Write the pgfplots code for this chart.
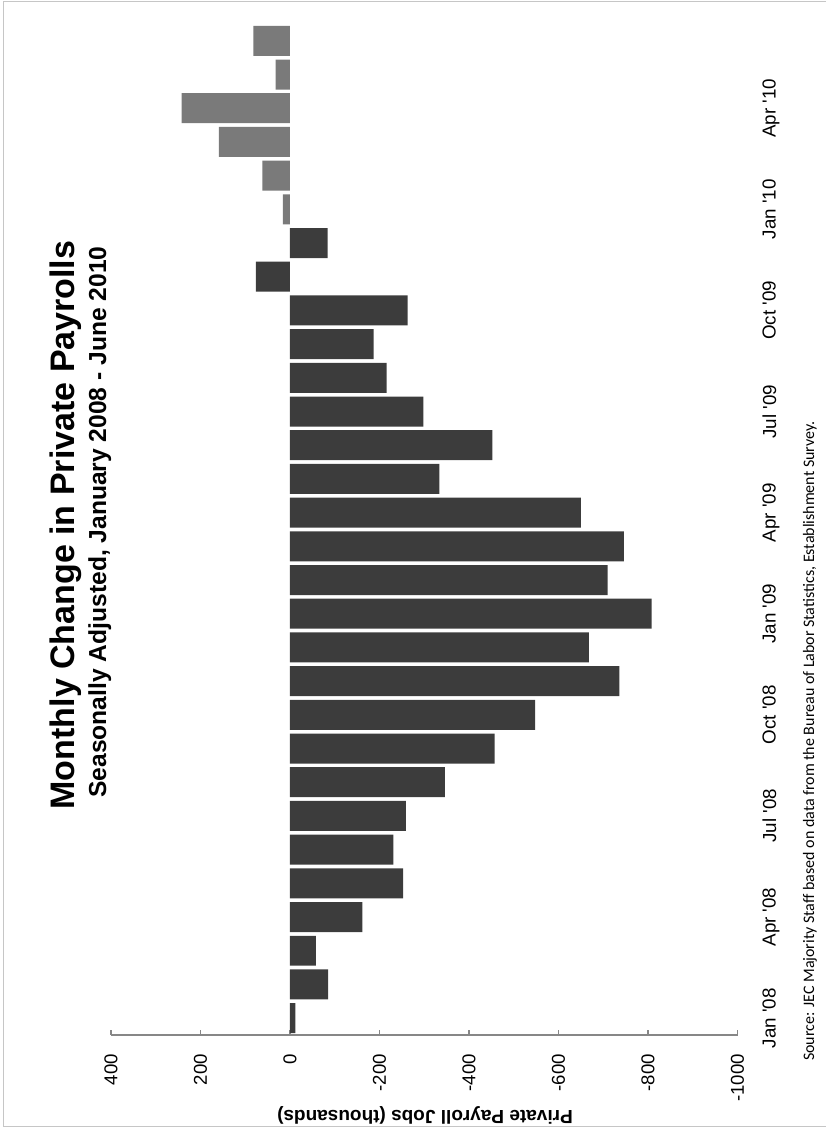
\documentclass[border=0pt]{standalone}
\usepackage{pgfplots}
\usepackage{pgfplotstable}
\pgfplotsset{compat=1.18}
\usepackage{fontspec}
\setmainfont{Liberation Sans}
\newfontfamily\sourcefont{Carlito}

\definecolor{bardark}{RGB}{60,60,60}
\definecolor{barlight}{RGB}{122,122,122}
\definecolor{axisgray}{RGB}{135,135,135}

% month index (0 = Jan 2008), change in private payrolls (thousands)
\pgfplotstableread{
idx val
0 -12
1 -85
2 -58
3 -162
4 -253
5 -231
6 -259
7 -346
8 -457
9 -548
10 -736
11 -668
12 -808
13 -710
14 -746
15 -650
16 -334
17 -452
18 -298
19 -216
20 -187
21 -263
22 76
23 -84
}\lossdata

\pgfplotstableread{
idx val
24 16
25 62
26 159
27 242
28 32
29 82
}\recoverydata

\begin{document}
\begin{tikzpicture}
\path[use as bounding box] (0,0) rectangle (414pt,566.5pt);
\draw[gray!45, line width=0.5pt] (413pt,565.5pt) -- (1.5pt,565.5pt) -- (1.5pt,3pt) -- (413pt,3pt);

\begin{axis}[
  at={(55.5pt,49pt)}, anchor=south west,
  scale only axis,
  width=313.25pt, height=505.5pt,
  xbar, bar width=0.89,
  x dir=reverse,
  xmin=-1000, xmax=400,
  ymin=-0.5, ymax=29.5,
  axis x line*=bottom,
  axis y line*=right,
  x axis line style={-, draw=axisgray, line width=0.6pt},
  y axis line style={draw=none},
  xtick={-1000,-800,-600,-400,-200,0,200,400},
  xticklabels={-1000,-800,-600,-400,-200,0,200,400},
  tick align=inside,
  major tick length=2.5pt,
  xtick style={draw=axisgray, line width=0.6pt},
  ytick style={draw=none},
  xticklabel style={rotate=90, anchor=east, font=\fontsize{9.3}{10}\selectfont},
  xticklabel shift=6pt,
  ytick={0,3,6,9,12,15,18,21,24,27},
  yticklabels={Jan \textquotesingle08,Apr \textquotesingle08,Jul \textquotesingle08,Oct \textquotesingle08,Jan \textquotesingle09,Apr \textquotesingle09,Jul \textquotesingle09,Oct \textquotesingle09,Jan \textquotesingle10,Apr \textquotesingle10},
  yticklabel style={rotate=90, anchor=north, font=\fontsize{9.4}{10}\selectfont},
  yticklabel shift=9pt,
  clip=false,
]
\addplot[fill=bardark, draw=none, bar shift=0pt] table[x=val, y=idx] {\lossdata};
\addplot[fill=barlight, draw=none, bar shift=0pt] table[x=val, y=idx] {\recoverydata};
\end{axis}

\node[rotate=90, anchor=base, font=\bfseries\fontsize{17}{19}\selectfont] at (37pt,304pt) {Monthly Change in Private Payrolls};
\node[rotate=90, anchor=base, font=\bfseries\fontsize{12.3}{14}\selectfont] at (53pt,305.5pt) {Seasonally Adjusted, January 2008 - June 2010};
\node[rotate=180, anchor=center, font=\bfseries\fontsize{9.5}{11}\selectfont] at (212.5pt,9pt) {Private Payroll Jobs (thousands)};
\node[rotate=90, anchor=base, font=\sourcefont\fontsize{8}{9}\selectfont] at (407pt,196pt) {Source: JEC Majority Staff based on data from the Bureau of Labor Statistics, Establishment Survey.};
\end{tikzpicture}
\end{document}
